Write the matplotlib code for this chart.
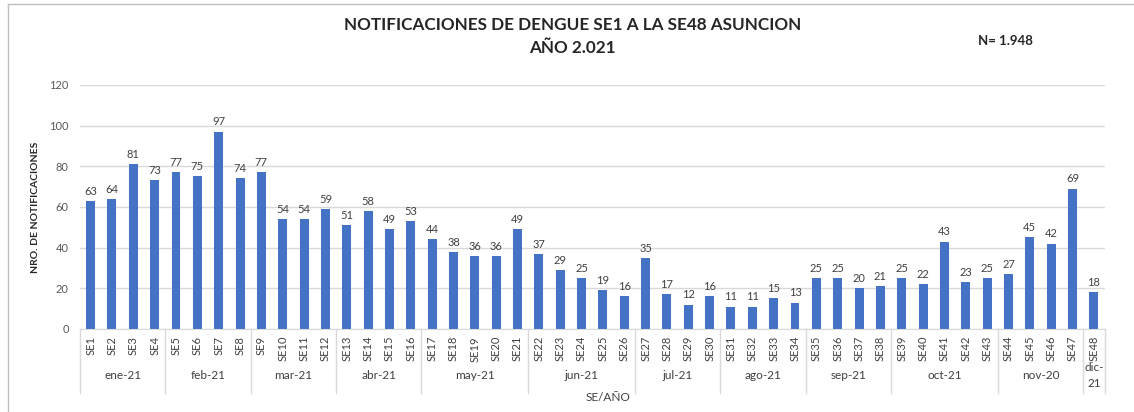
import numpy as np
import matplotlib.pyplot as plt
from matplotlib.transforms import blended_transform_factory

plt.rcParams['font.family'] = ['Lato', 'DejaVu Sans']

semanas = ['SE%d' % i for i in range(1, 49)]
casos = [63, 64, 81, 73, 77, 75, 97, 74, 77, 54, 54, 59, 51, 58, 49, 53,
         44, 38, 36, 36, 49, 37, 29, 25, 19, 16, 35, 17, 12, 16, 11, 11,
         15, 13, 25, 25, 20, 21, 25, 22, 43, 23, 25, 27, 45, 42, 69, 18]
meses = ['ene-21', 'feb-21', 'mar-21', 'abr-21', 'may-21', 'jun-21',
         'jul-21', 'ago-21', 'sep-21', 'oct-21', 'nov-20', 'dic-\n21']
sem_por_mes = [4, 4, 4, 4, 5, 5, 4, 4, 4, 5, 4, 1]

fig = plt.figure(figsize=(11.34, 4.12), dpi=100)
ax = fig.add_axes([0.0705, 0.2015, 0.9035, 0.5925])

x = np.arange(len(casos))
barras = ax.bar(x, casos, width=0.42, color='#4472C4')
ax.bar_label(barras, padding=3, fontsize=8, color='#404040')

ax.set_ylim(0, 120)
ax.set_yticks(range(0, 121, 20))
ax.set_xlim(-0.5, len(casos) - 0.5)
ax.grid(axis='y', color='#d9d9d9', linewidth=1)
ax.set_axisbelow(True)
for s in ['top', 'right', 'left']:
    ax.spines[s].set_visible(False)
ax.spines['bottom'].set_color('#d9d9d9')
ax.tick_params(axis='y', length=0, labelsize=8, colors='#595959', pad=8)
ax.set_xticks(x)
ax.set_xticklabels(semanas, rotation=90, fontsize=8, color='#404040')
ax.tick_params(axis='x', length=0, pad=5)

# etiquetas de mes y separadores
tr = blended_transform_factory(ax.transData, ax.transAxes)
inicio = -0.5
ax.plot([inicio, inicio], [0, -0.262], transform=tr, color='#d9d9d9',
        lw=1, clip_on=False)
for mes, n in zip(meses, sem_por_mes):
    fin = inicio + n
    ax.plot([fin, fin], [0, -0.262], transform=tr, color='#d9d9d9',
            lw=1, clip_on=False)
    ax.text((inicio + fin) / 2, -0.19, mes, transform=tr, ha='center',
            va='center', fontsize=8.5, color='#404040', linespacing=1.5)
    inicio = fin

ax.set_ylabel('NRO. DE NOTIFICACIONES', fontsize=7.5, fontweight='bold',
              color='#262626')
ax.yaxis.set_label_coords(-0.039, 0.5)
fig.text(0.536, 0.035, 'SE/AÑO', ha='center', va='center', fontsize=8.5,
         color='#404040')

fig.text(0.505, 0.94, 'NOTIFICACIONES DE DENGUE SE1 A LA SE48 ASUNCION',
         ha='center', va='center', fontsize=12.3, fontweight='bold',
         color='#262626')
fig.text(0.505, 0.883, 'AÑO 2.021', ha='center', va='center', fontsize=12.3,
         fontweight='bold', color='#262626')
fig.text(0.887, 0.9, 'N= 1.948', ha='center', va='center', fontsize=9.5,
         fontweight='bold', color='#262626')

# borde del grafico
fig.add_artist(plt.Line2D([0.007, 0.007], [0, 0.99], color='#bfbfbf', lw=1))
fig.add_artist(plt.Line2D([0.007, 1], [0.99, 0.99], color='#bfbfbf', lw=1))

fig.savefig('out.png', dpi=100)
